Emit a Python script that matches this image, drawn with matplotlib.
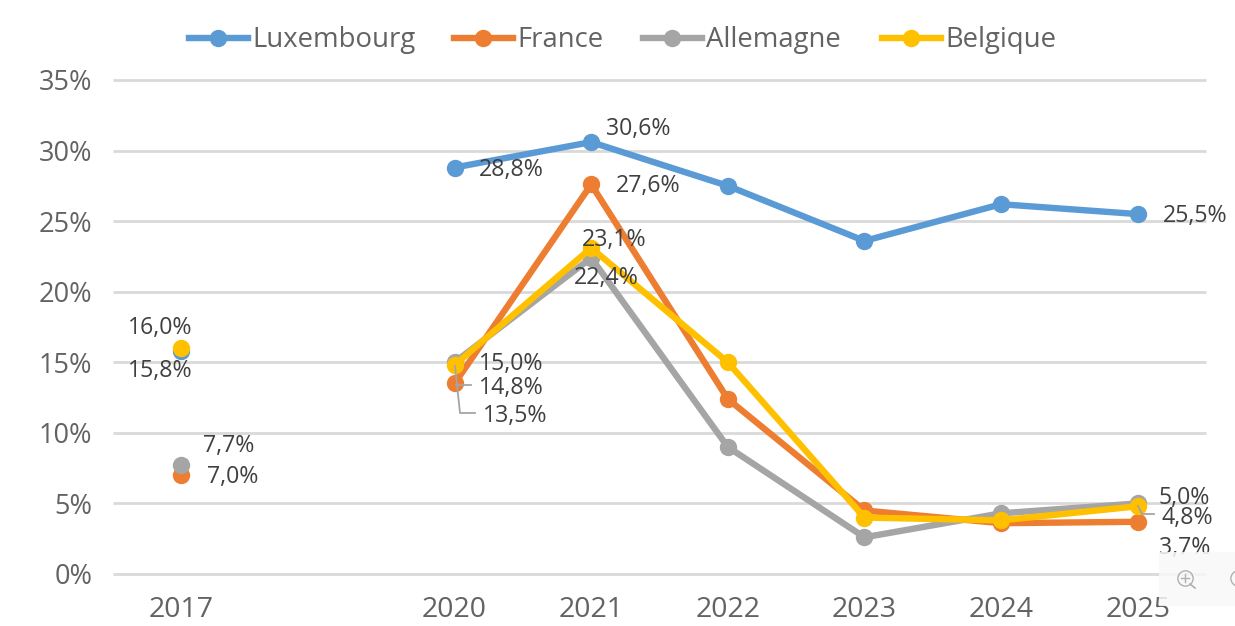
import matplotlib
matplotlib.use("Agg")
import matplotlib.pyplot as plt
from matplotlib.patches import Rectangle
from matplotlib.lines import Line2D

W, H = 1235, 626
years = ["2017", "2020", "2021", "2022", "2023", "2024", "2025"]
positions = [0, 2, 3, 4, 5, 6, 7]
luxembourg = [15.8, 28.8, 30.6, 27.5, 23.6, 26.2, 25.5]
france = [7.0, 13.5, 27.6, 12.4, 4.5, 3.6, 3.7]
allemagne = [7.7, 15.0, 22.4, 9.0, 2.6, 4.3, 5.0]
belgique = [16.0, 14.8, 23.1, 15.0, 4.0, 3.8, 4.8]
yticks = [0, 5, 10, 15, 20, 25, 30, 35]

series = [("Luxembourg", luxembourg, "#5B9BD5"),
          ("France", france, "#ED7D31"),
          ("Allemagne", allemagne, "#A5A5A5"),
          ("Belgique", belgique, "#FFC000")]

# (series index, year index, dx px, dy px) label centre offset from the point
label_offsets = [
    (0, 0, -21, -20), (3, 0, -21, 20), (2, 0, 47, 19), (1, 0, 51, -2),
    (0, 1, 57, -2), (0, 2, 47, 13), (0, 6, 57, -2),
    (1, 1, 61, -33), (1, 2, 57, -2), (2, 1, 57, -2), (3, 1, 57, -23),
    (3, 2, 23, 8), (2, 2, 15, -20),
    (2, 6, 47, 5), (3, 6, 50, -12), (1, 6, 47, -26),
]

plt.rcParams["font.family"] = ["Open Sans", "DejaVu Sans"]
fig = plt.figure(figsize=(W / 100, H / 100), dpi=100)
ax = fig.add_axes([113 / W, 1 - 574 / H, (1206 - 113) / W, (574 - 80) / H])
ax.set_xlim(-0.5, 7.5)
ax.set_ylim(0, 35)
for s in ax.spines.values():
    s.set_visible(False)
ax.set_yticks(yticks)
ax.set_yticklabels([f"{v}%" for v in yticks], fontsize=19.5, color="#636363")
ax.set_xticks(positions)
ax.set_xticklabels(years, fontsize=20.5, color="#636363")
ax.tick_params(length=0)
ax.tick_params(axis="y", pad=15)
ax.tick_params(axis="x", pad=16)
ax.grid(axis="y", color="#D9D9D9", lw=2)
for gl in ax.get_ygridlines():
    gl.set_clip_on(False)
    gl.set_solid_capstyle("butt")
ax.set_axisbelow(True)

for name, vals, col in series:
    ax.plot(positions[:1], vals[:1], "o", color=col, ms=11.5, clip_on=False, zorder=3)
    ax.plot(positions[1:], vals[1:], "-o", color=col, lw=4.6, ms=11.5, clip_on=False,
            zorder=3, solid_capstyle="round", label=name)

for si, yi, dx, dy in label_offsets:
    v = series[si][1][yi]
    ax.annotate(f"{v:.1f}".replace(".", ",") + "%", (positions[yi], v),
                xytext=(dx * .72, dy * .72), textcoords="offset points",
                ha="center", va="center", fontsize=16.7, color="#404040", zorder=5)

def px(x, y):
    return x / W, 1 - y / H

def fline(xs, ys, col="#A5A5A5", lw=1.3, z=6):
    fig.add_artist(Line2D([x / W for x in xs], [1 - y / H for y in ys], color=col, lw=lw, zorder=z))

# leader lines
fline([456, 471], [385, 385])
fline([455, 460, 475], [366, 413, 413])
fline([1138, 1142, 1154], [506, 514, 514])

# legend
lx = [(189, 248, 218, 252), (454, 513, 483, 517), (643, 702, 672, 706), (882, 941, 911, 945)]
for (x0, x1, xm, xt), (name, _, col) in zip(lx, series):
    fline([x0, x1], [38, 38], col=col, lw=4.6)
    fig.add_artist(Line2D([xm / W], [1 - 38 / H], marker="o", ms=11.5, color=col, zorder=6))
    fig.text(xt / W, 1 - 40 / H, name, fontsize=19.8, color="#636363", va="center", ha="left")

# faint viewer widget
fig.add_artist(Rectangle(px(1159, 606), 76 / W, 54 / H, transform=fig.transFigure,
                         color="#F8F8F8", alpha=0.85, zorder=7, lw=0))
fline([1190, 1195], [584, 588], col="#B0B0B0", lw=1.2, z=8)
fline([1181, 1189], [578, 578], col="#B0B0B0", lw=1, z=8)
fline([1185, 1185], [574, 582], col="#B0B0B0", lw=1, z=8)
for cx in (1185, 1238):
    fig.add_artist(Line2D([cx / W], [1 - 578 / H], marker="o", ms=11, mfc="none", mec="#B0B0B0",
                          mew=1, zorder=8))
fig.savefig("out.png", dpi=100)
